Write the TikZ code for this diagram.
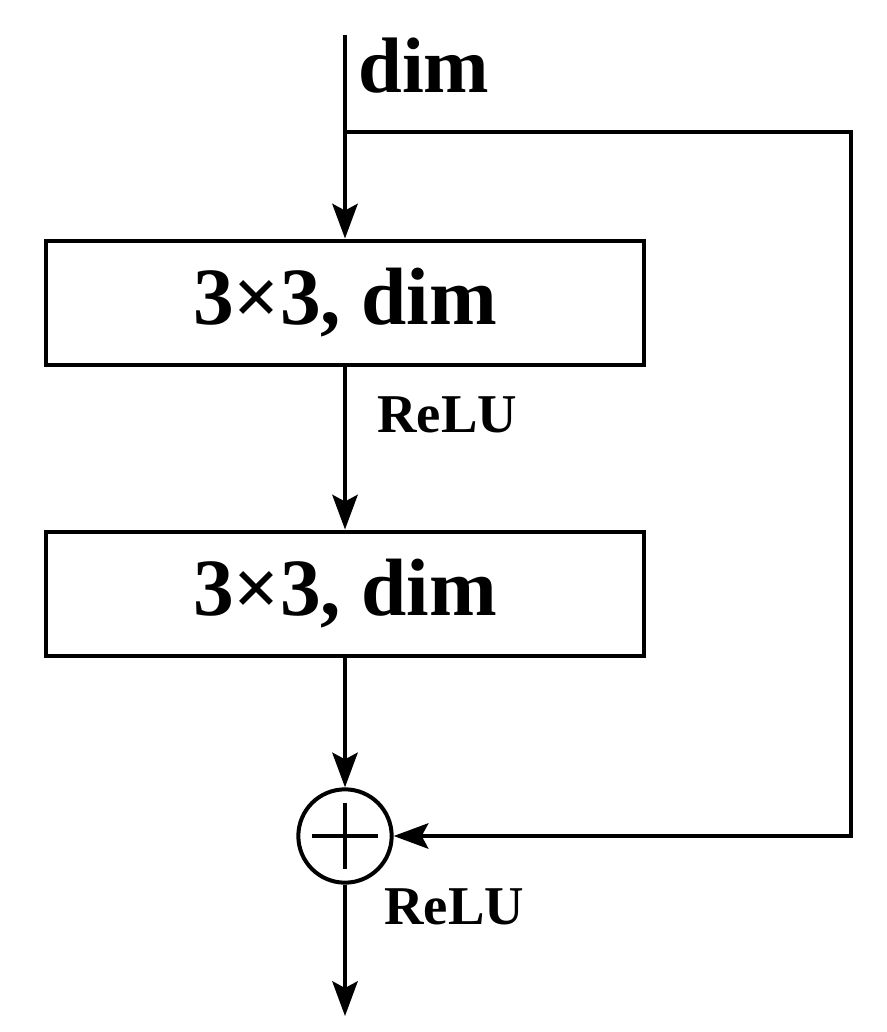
\documentclass[tikz,border=0pt]{standalone}
\usepackage{fontspec}
\setmainfont{Liberation Serif}
\usetikzlibrary{arrows.meta}
\begin{document}
\begin{tikzpicture}[x=0.75pt,y=-0.75pt,
  line/.style={line width=3pt},
  arr/.style={line,-{Stealth[length=26pt,width=19pt,inset=5pt]}},
  box/.style={draw,line width=3pt,minimum width=449pt,minimum height=93pt,inner sep=0pt,font=\fontsize{61}{64}\selectfont\bfseries},
  lab/.style={font=\fontsize{41}{44}\selectfont\bfseries,inner sep=0pt}]
\useasboundingbox (0,0) rectangle (887,1032);
\coordinate (top) at (345,35);
\coordinate (split) at (345,132);
\coordinate (tr) at (851,132);
\coordinate (br) at (851,836);
\coordinate (bot) at (345,1016);
\coordinate (pl) at (312,836);
\coordinate (pr) at (378,836);
\coordinate (pt) at (345,803);
\coordinate (pb) at (345,869);
\node[box] (b1) at (345,302.5) {3×3, dim};
\node[box] (b2) at (345,593.5) {3×3, dim};
\node[draw,line width=3pt,circle,minimum size=70pt,inner sep=0pt] (add) at (345,836) {};
\draw[line] (pl) -- (pr) (pt) -- (pb);
\node[font=\fontsize{59}{62}\selectfont\bfseries,anchor=west,inner sep=0pt] (dimlab) at (358,66) {dim};
\node[lab,anchor=west] (r1) at (377,415) {ReLU};
\node[lab,anchor=west] (r2) at (384,907) {ReLU};
\draw[arr] (top) -- (b1.north);
\draw[arr] (b1.south) -- (b2.north);
\draw[arr] (b2.south) -- (add.north);
\draw[arr] (add.south) -- (bot);
\draw[arr] (split) -- (tr) -- (br) -- (add.east);
\end{tikzpicture}
\end{document}
